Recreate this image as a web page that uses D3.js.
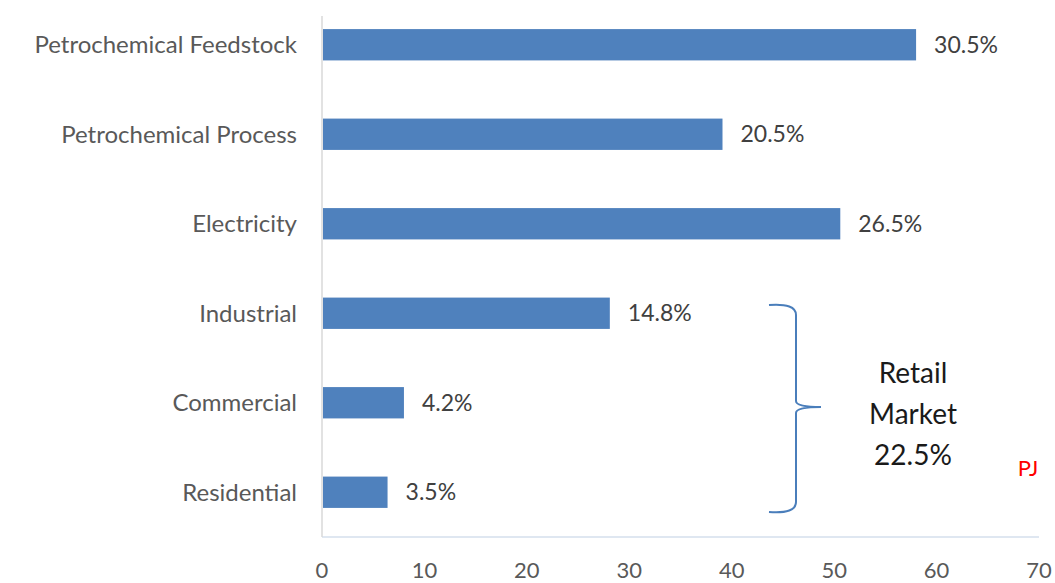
<!DOCTYPE html>
<html>
<head>
<meta charset="utf-8">
<script src="https://cdn.jsdelivr.net/npm/d3@7"></script>
<style>
  body { margin: 0; background: #fff; }
  svg { display: block; font-family: Lato, "Open Sans", sans-serif; }
</style>
</head>
<body>
<svg id="chart" width="1055" height="583"></svg>
<script>
// data (PJ) and the printed shares
const categories = ["Petrochemical Feedstock", "Petrochemical Process", "Electricity", "Industrial", "Commercial", "Residential"];
const values = [58.0, 39.1, 50.6, 28.1, 8.0, 6.4];
const shares = ["30.5%", "20.5%", "26.5%", "14.8%", "4.2%", "3.5%"];
const xTicks = [0, 10, 20, 30, 40, 50, 60, 70];
const retailLines = ["Retail", "Market", "22.5%"];

const svg = d3.select("#chart");
const plotLeft = 322, plotRight = 1039, plotTop = 0, plotBottom = 537;

const x = d3.scaleLinear().domain([0, 70]).range([plotLeft, plotRight]);
const y = d3.scaleBand().domain(categories).range([plotTop, plotBottom])
            .paddingInner(0.65).paddingOuter(0.325);

// axes lines
svg.append("line")
    .attr("x1", plotLeft).attr("x2", plotRight).attr("y1", plotBottom).attr("y2", plotBottom)
    .attr("stroke", "#dfe7f1").attr("stroke-width", 2);
svg.append("line")
    .attr("x1", plotLeft).attr("x2", plotLeft).attr("y1", 16).attr("y2", plotBottom)
    .attr("stroke", "#d9d9d9").attr("stroke-width", 1.5);

// x tick labels
svg.append("g").selectAll("text")
    .data(xTicks)
    .join("text")
    .attr("x", d => x(d))
    .attr("y", 578)
    .attr("text-anchor", "middle")
    .attr("font-size", 22)
    .attr("fill", "#595959")
    .text(d => d);

// category labels
svg.append("g").selectAll("text")
    .data(categories)
    .join("text")
    .attr("x", plotLeft - 25)
    .attr("y", d => y(d) + y.bandwidth() / 2)
    .attr("dy", "0.35em")
    .attr("text-anchor", "end")
    .attr("font-size", 24)
    .attr("fill", "#595959")
    .text(d => d);

// bars
svg.append("g").selectAll("rect")
    .data(values)
    .join("rect")
    .attr("x", x(0) + 1)
    .attr("y", (d, i) => y(categories[i]))
    .attr("width", d => x(d) - x(0) - 1)
    .attr("height", y.bandwidth())
    .attr("fill", "#4f81bd");

// value labels
svg.append("g").selectAll("text")
    .data(values)
    .join("text")
    .attr("x", d => x(d) + 18)
    .attr("y", (d, i) => y(categories[i]) + y.bandwidth() / 2)
    .attr("dy", "0.35em")
    .attr("font-size", 23)
    .attr("fill", "#404040")
    .text((d, i) => shares[i]);

// brace round the retail rows
const bTop = 305, bBot = 512, bMid = 407, bx = 796, bl = 769, tip = 821;
const brace = d3.path();
brace.moveTo(bl, bTop);
brace.quadraticCurveTo(bx, bTop - 2, bx, bTop + 10);
brace.lineTo(bx, bMid - 6);
brace.quadraticCurveTo(bx, bMid, tip, bMid);
brace.quadraticCurveTo(bx, bMid, bx, bMid + 6);
brace.lineTo(bx, bBot - 10);
brace.quadraticCurveTo(bx, bBot + 2, bl, bBot);
svg.append("path")
    .attr("d", brace.toString())
    .attr("fill", "none")
    .attr("stroke", "#4a7ebb")
    .attr("stroke-width", 2);

svg.append("g").selectAll("text")
    .data(retailLines)
    .join("text")
    .attr("x", 913)
    .attr("y", (d, i) => 373 + i * 41)
    .attr("dy", "0.35em")
    .attr("text-anchor", "middle")
    .attr("font-size", 28)
    .attr("fill", "#1a1a1a")
    .text(d => d);

svg.append("text")
    .attr("x", 1028).attr("y", 468).attr("dy", "0.35em")
    .attr("text-anchor", "middle")
    .attr("font-size", 22)
    .attr("fill", "#ff0000")
    .text("PJ");
</script>
</body>
</html>
